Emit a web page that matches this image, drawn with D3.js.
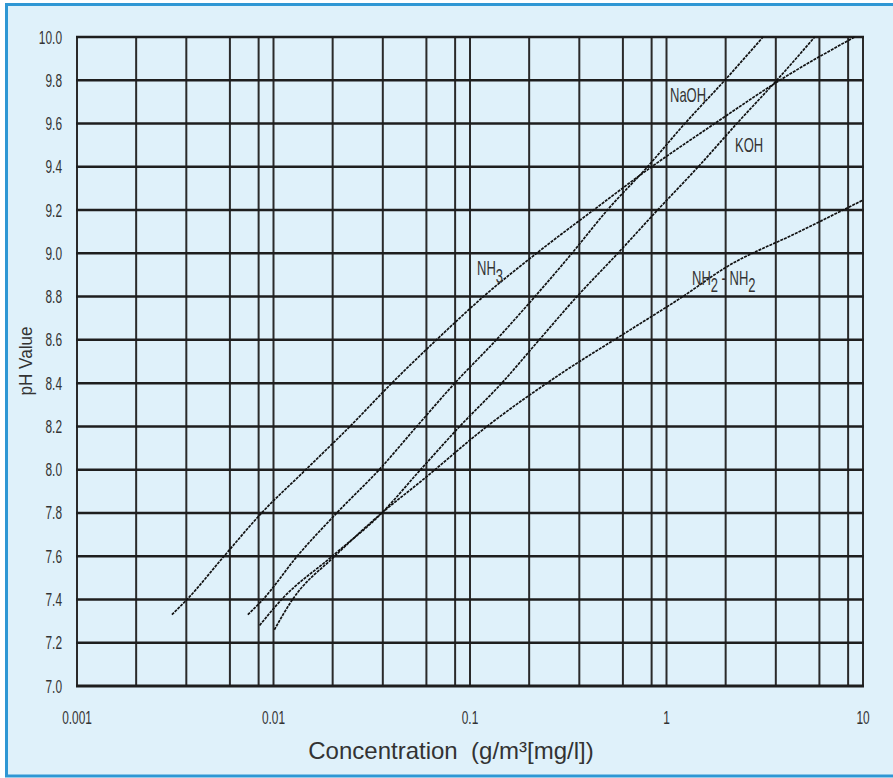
<!DOCTYPE html>
<html>
<head>
<meta charset="utf-8">
<script src="https://cdn.jsdelivr.net/npm/d3@7"></script>
<style>
  html, body { margin: 0; padding: 0; background: #ffffff; }
  svg { display: block; }
  text { font-family: "Liberation Sans", Arial, Helvetica, sans-serif; fill: #333333; white-space: pre; }
</style>
</head>
<body>
<svg id="chart" width="893" height="778"></svg>
<script>
// ---- data ----
const xTickValues = [0.001, 0.01, 0.1, 1, 10];
const xTickLabels = ["0.001", "0.01", "0.1", "1", "10"];
const yTickValues = [7.0, 7.2, 7.4, 7.6, 7.8, 8.0, 8.2, 8.4, 8.6, 8.8, 9.0, 9.2, 9.4, 9.6, 9.8, 10.0];
const gridMultipliers = [1, 2, 3.6, 6, 8.4];
const gridDecades = [0.001, 0.01, 0.1, 1];

const nh3Conc  = [0.00304, 0.00363, 0.0056, 0.0087, 0.0146, 0.0245, 0.040, 0.0675, 0.117, 0.218, 0.425, 0.84, 1.76, 3.77, 9.06];
const nh3PH    = [7.33, 7.4, 7.6, 7.8, 8.0, 8.2, 8.4, 8.6, 8.8, 9.0, 9.2, 9.4, 9.6, 9.8, 10.0];

const naohConc = [0.0074, 0.00884, 0.0132, 0.021, 0.0345, 0.0536, 0.0837, 0.136, 0.214, 0.330, 0.50, 0.80, 1.24, 1.98, 3.1];
const naohPH   = [7.33, 7.4, 7.6, 7.8, 8.0, 8.2, 8.4, 8.6, 8.8, 9.0, 9.2, 9.4, 9.6, 9.8, 10.0];

const kohConc  = [0.0085, 0.0110, 0.0199, 0.0356, 0.056, 0.0887, 0.145, 0.225, 0.35, 0.565, 0.90, 1.45, 2.28, 3.64, 5.68];
const kohPH    = [7.28, 7.4, 7.6, 7.8, 8.0, 8.2, 8.4, 8.6, 8.8, 9.0, 9.2, 9.4, 9.6, 9.8, 10.0];

const n2h4Conc = [0.0101, 0.0125, 0.0205, 0.0356, 0.057, 0.122, 0.286, 0.65, 1.21, 2.02, 4.59, 10];
const n2h4PH   = [7.26, 7.4, 7.6, 7.8, 7.95, 8.2, 8.44, 8.645, 8.8, 8.937, 9.094, 9.246];

const seriesNames = ["NH3", "NaOH", "KOH", "NH2-NH2"];

// ---- layout ----
const svg = d3.select("#chart");
const plot = { left: 77, right: 863, top: 37, bottom: 686 };

svg.append("rect")
  .attr("x", 6.5).attr("y", 4.5)
  .attr("width", 900).attr("height", 771.5)
  .attr("fill", "#dff1fa")
  .attr("stroke", "#2f97d4")
  .attr("stroke-width", 3);

const x = d3.scaleLog().domain([0.001, 10]).range([plot.left, plot.right]);
const y = d3.scaleLinear().domain([7, 10]).range([plot.bottom, plot.top]);

// vertical grid lines
const gridX = [];
gridDecades.forEach(d => gridMultipliers.forEach(m => gridX.push(d * m)));
gridX.push(10);

svg.append("g").selectAll("line").data(gridX).join("line")
  .attr("x1", d => x(d)).attr("x2", d => x(d))
  .attr("y1", y(10)).attr("y2", y(7))
  .attr("stroke", "#2a2a2a")
  .attr("stroke-width", 2);

// horizontal grid lines
svg.append("g").selectAll("line").data(yTickValues).join("line")
  .attr("x1", x(0.001) - 1).attr("x2", x(10) + 1)
  .attr("y1", d => y(d)).attr("y2", d => y(d))
  .attr("stroke", "#1e1e1e")
  .attr("stroke-width", d => d === 7.0 ? 3 : 2.5);

// y tick labels
svg.append("g").selectAll("text").data(yTickValues).join("text")
  .attr("transform", d => `translate(62,${y(d) + 6.5}) scale(0.66,1)`)
  .attr("text-anchor", "end")
  .attr("font-size", 18)
  .text(d => d.toFixed(1));

// x tick labels
svg.append("g").selectAll("text").data(xTickValues).join("text")
  .attr("transform", d => `translate(${x(d)},724) scale(0.66,1)`)
  .attr("text-anchor", "middle")
  .attr("font-size", 18)
  .text((d, i) => xTickLabels[i]);

// axis titles
svg.append("text")
  .attr("x", 451).attr("y", 759)
  .attr("text-anchor", "middle")
  .attr("font-size", 24)
  .text("Concentration  (g/m³[mg/l])");

svg.append("text")
  .attr("transform", "translate(32,361) rotate(-90) scale(0.95,1)")
  .attr("text-anchor", "middle")
  .attr("font-size", 18)
  .text("pH Value");

// curves
const series = [
  { name: seriesNames[0], c: nh3Conc, p: nh3PH },
  { name: seriesNames[1], c: naohConc, p: naohPH },
  { name: seriesNames[2], c: kohConc, p: kohPH },
  { name: seriesNames[3], c: n2h4Conc, p: n2h4PH }
];
const line = d3.line()
  .x(d => x(d[0]))
  .y(d => y(d[1]))
  .curve(d3.curveMonotoneX);

svg.append("g").selectAll("path").data(series).join("path")
  .attr("d", s => line(s.c.map((c, i) => [c, s.p[i]])))
  .attr("fill", "none")
  .attr("stroke", "#111111")
  .attr("stroke-width", 1.7)
  .attr("stroke-dasharray", "3,1");

// curve labels
function label(px, py, parts) {
  const t = svg.append("text")
    .attr("transform", `translate(${px},${py}) scale(0.65,1)`)
    .attr("font-size", 20);
  parts.forEach(p => {
    t.append("tspan")
      .attr("dy", p.dy || 0)
      .text(p.t);
  });
}
label(670, 102, [{ t: "NaOH" }]);
label(735, 152, [{ t: "KOH" }]);
label(477, 275, [{ t: "NH" }, { t: "3", dy: 8 }]);
label(692, 285, [{ t: "NH" }, { t: "2", dy: 7 }, { t: " - ", dy: -7 }, { t: "NH" }, { t: "2", dy: 7 }]);
</script>
</body>
</html>
